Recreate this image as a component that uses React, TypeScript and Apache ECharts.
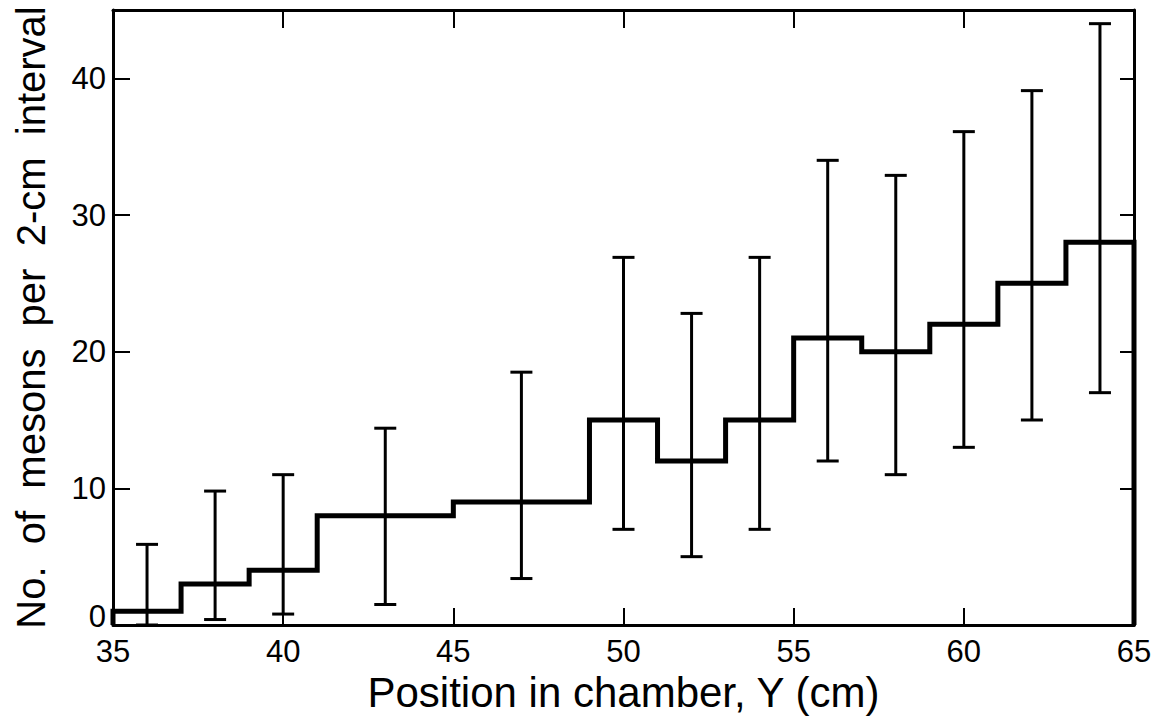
import React, { useEffect, useRef } from "react";
import * as echarts from "echarts";

// Histogram bins (cm) and counts per 2-cm interval
const binEdges = [35, 37, 39, 41, 45, 49, 51, 53, 55, 57, 59, 61, 63, 65];
const binCounts = [1, 3, 4, 8, 9, 15, 12, 15, 21, 20, 22, 25, 28];

// Error bars
const errCenters = [36, 38, 40, 43, 47, 50, 52, 54, 56, 58, 60, 62, 64];
const errLow = [0, 0.4, 0.8, 1.5, 3.4, 7, 5, 7, 12, 11, 13, 15, 17];
const errHigh = [5.9, 9.8, 11, 14.4, 18.5, 26.9, 22.8, 26.9, 34, 32.9, 36.1, 39.1, 44];

// Axis ranges
const xMin = 35;
const xMax = 65;
const xStep = 5;
const yMin = 0;
const yMax = 45;
const yStep = 10;

const xName = "Position in chamber, Y (cm)";
const yName = "No.  of  mesons  per  2-cm  interval";

const FONT = "'Liberation Sans', Arial, sans-serif";
const INK = "#000";

export default function App() {
  const ref = useRef<HTMLDivElement>(null);

  useEffect(() => {
    if (!ref.current) return;
    const chart = echarts.init(ref.current, null, { renderer: "svg" });

    const histPoints: number[][] = [[binEdges[0], 0]];
    for (let i = 0; i < binCounts.length; i++) {
      histPoints.push([binEdges[i], binCounts[i]]);
      histPoints.push([binEdges[i + 1], binCounts[i]]);
    }
    histPoints.push([binEdges[binEdges.length - 1], 0]);

    const errData = errCenters.map((c, i) => [c, errLow[i], errHigh[i]]);

    const tickStyle = { color: INK, width: 2 };

    const option: any = {
      animation: false,
      backgroundColor: "#fff",
      grid: { left: 113, right: 26, top: 10, bottom: 98, containLabel: false },
      xAxis: [
        {
          type: "value",
          min: xMin,
          max: xMax,
          interval: xStep,
          position: "bottom",
          axisLine: { show: true, onZero: false, lineStyle: { color: INK, width: 3 } },
          axisTick: { show: true, inside: true, length: 17, lineStyle: tickStyle },
          axisLabel: { color: INK, fontSize: 31, fontFamily: FONT, margin: 11 },
          splitLine: { show: false },
          name: xName,
          nameLocation: "middle",
          nameGap: 40,
          nameTextStyle: { color: INK, fontSize: 42, fontFamily: FONT },
        },
        {
          type: "value",
          min: xMin,
          max: xMax,
          interval: xStep,
          position: "top",
          axisLine: { show: true, onZero: false, lineStyle: { color: INK, width: 3 } },
          axisTick: { show: true, inside: true, length: 18, lineStyle: tickStyle },
          axisLabel: { show: false },
          splitLine: { show: false },
        },
      ],
      yAxis: [
        {
          type: "value",
          min: yMin,
          max: yMax,
          interval: yStep,
          position: "left",
          axisLine: { show: true, onZero: false, lineStyle: { color: INK, width: 3 } },
          axisTick: { show: true, inside: true, length: 17, lineStyle: tickStyle },
          axisLabel: {
            color: INK,
            fontSize: 31,
            fontFamily: FONT,
            margin: 7,
            showMaxLabel: false,
            formatter: (v: number) => (v === yMin ? "{z|" + v + "}" : String(v)),
            rich: {
              z: { color: INK, fontSize: 31, fontFamily: FONT, padding: [0, 0, 18, 0] },
            },
          },
          splitLine: { show: false },
          name: yName,
          nameLocation: "middle",
          nameGap: 62,
          nameTextStyle: { color: INK, fontSize: 40, fontFamily: FONT },
        },
        {
          type: "value",
          min: yMin,
          max: yMax,
          interval: yStep,
          position: "right",
          axisLine: { show: true, onZero: false, lineStyle: { color: INK, width: 3 } },
          axisTick: { show: true, inside: true, length: 14, lineStyle: tickStyle },
          axisLabel: { show: false },
          splitLine: { show: false },
        },
      ],
      series: [
        {
          type: "custom",
          xAxisIndex: 0,
          yAxisIndex: 0,
          data: errData,
          encode: { x: 0, y: [1, 2] },
          clip: false,
          renderItem: (params: any, api: any) => {
            const x = api.value(0);
            const lo = api.value(1);
            const hi = api.value(2);
            const pLo = api.coord([x, lo]);
            const pHi = api.coord([x, hi]);
            const hw = 11;
            const style = { stroke: INK, lineWidth: 3, fill: "none" };
            return {
              type: "group",
              children: [
                { type: "line", shape: { x1: pLo[0], y1: pLo[1], x2: pHi[0], y2: pHi[1] }, style },
                { type: "line", shape: { x1: pLo[0] - hw, y1: pLo[1], x2: pLo[0] + hw, y2: pLo[1] }, style },
                { type: "line", shape: { x1: pHi[0] - hw, y1: pHi[1], x2: pHi[0] + hw, y2: pHi[1] }, style },
              ],
            };
          },
          z: 3,
        },
        {
          type: "line",
          xAxisIndex: 0,
          yAxisIndex: 0,
          data: histPoints,
          showSymbol: false,
          symbol: "none",
          clip: false,
          lineStyle: { color: INK, width: 5, join: "miter" },
          z: 4,
        },
      ],
    };

    chart.setOption(option);
    return () => chart.dispose();
  }, []);

  return (
    <div
      ref={ref}
      style={{ position: "fixed", left: 0, top: 0, width: 1160, height: 723, background: "#fff" }}
    />
  );
}
